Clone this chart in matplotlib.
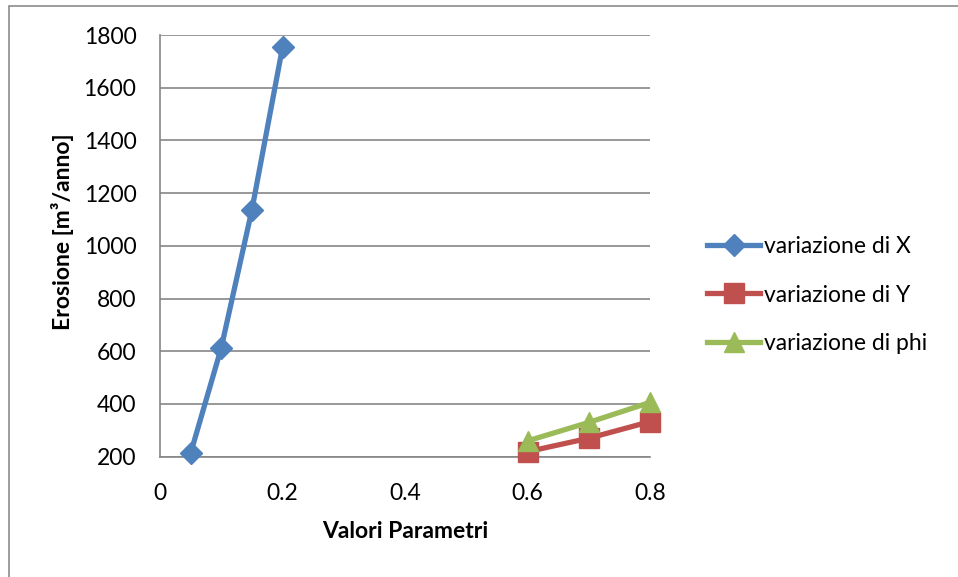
import matplotlib
matplotlib.use("Agg")
import matplotlib.pyplot as plt
from matplotlib.patches import Rectangle

plt.rcParams['font.family'] = ['Lato', 'DejaVu Sans']

# Parameter values and resulting erosion for each sensitivity series
x_X = [0.05, 0.10, 0.15, 0.20]
erosion_X = [213, 613, 1136, 1753]

x_Y = [0.6, 0.7, 0.8]
erosion_Y = [219, 270, 333]

x_phi = [0.6, 0.7, 0.8]
erosion_phi = [260, 330, 406]

series_labels = ["variazione di X", "variazione di Y", "variazione di phi"]
x_ticks = [0, 0.2, 0.4, 0.6, 0.8]
y_ticks = [200, 400, 600, 800, 1000, 1200, 1400, 1600, 1800]

BLUE = "#4F81BD"
RED = "#C0504D"
GREEN = "#9BBB59"
GRID = "#868686"
FS = 16.5

W, H = 958, 577
fig = plt.figure(figsize=(W / 100, H / 100), dpi=100)

# chart-area frame (open on the right and bottom)
fig.patches.append(Rectangle((9 / W, -0.1), 1.2, 1 - 5.5 / H + 0.1,
                             transform=fig.transFigure, fill=False,
                             edgecolor="#8C8C8C", linewidth=1.2))

ax = fig.add_axes([160 / W, 1 - 456.7 / H, 490 / W, (456.7 - 35) / H])

lw = 3.8
ax.plot(x_X, erosion_X, color=BLUE, lw=lw, marker="D", ms=11,
        label=series_labels[0], zorder=3, clip_on=False)
ax.plot(x_Y, erosion_Y, color=RED, lw=lw, marker="s", ms=14,
        label=series_labels[1], zorder=3, clip_on=False)
ax.plot(x_phi, erosion_phi, color=GREEN, lw=lw, marker="^", ms=14,
        label=series_labels[2], zorder=4, clip_on=False)

ax.set_xlim(0, 0.8)
ax.set_ylim(200, 1800)
ax.set_xticks(x_ticks)
ax.set_xticklabels(["0", "0.2", "0.4", "0.6", "0.8"])
ax.set_yticks(y_ticks)
ax.set_yticklabels([str(v) for v in y_ticks])
ax.tick_params(axis="both", length=0, labelsize=FS)
ax.tick_params(axis="y", pad=17)
ax.tick_params(axis="x", pad=19)

ax.grid(axis="y", color=GRID, linewidth=1.2)
ax.set_axisbelow(True)
for side in ("top", "right"):
    ax.spines[side].set_visible(False)
for side in ("left", "bottom"):
    ax.spines[side].set_color(GRID)
    ax.spines[side].set_linewidth(1.2)

ax.set_xlabel("Valori Parametri", fontsize=FS, fontweight="bold", va="center")
ax.xaxis.set_label_coords(0.5, (456.7 - 532) / 421.7)
ax.set_ylabel("Erosione [m³/anno]", fontsize=FS, fontweight="bold",
              va="center", ha="center")
ax.yaxis.set_label_coords((62 - 160) / 490, (456.7 - 232) / 421.7)

leg = fig.legend(loc="center left", bbox_to_anchor=(698 / W, 1 - 295 / H),
                 frameon=False, fontsize=FS, handlelength=2.3,
                 handletextpad=0.2, labelspacing=1.2, borderaxespad=0)

fig.savefig("out.png", dpi=100)
